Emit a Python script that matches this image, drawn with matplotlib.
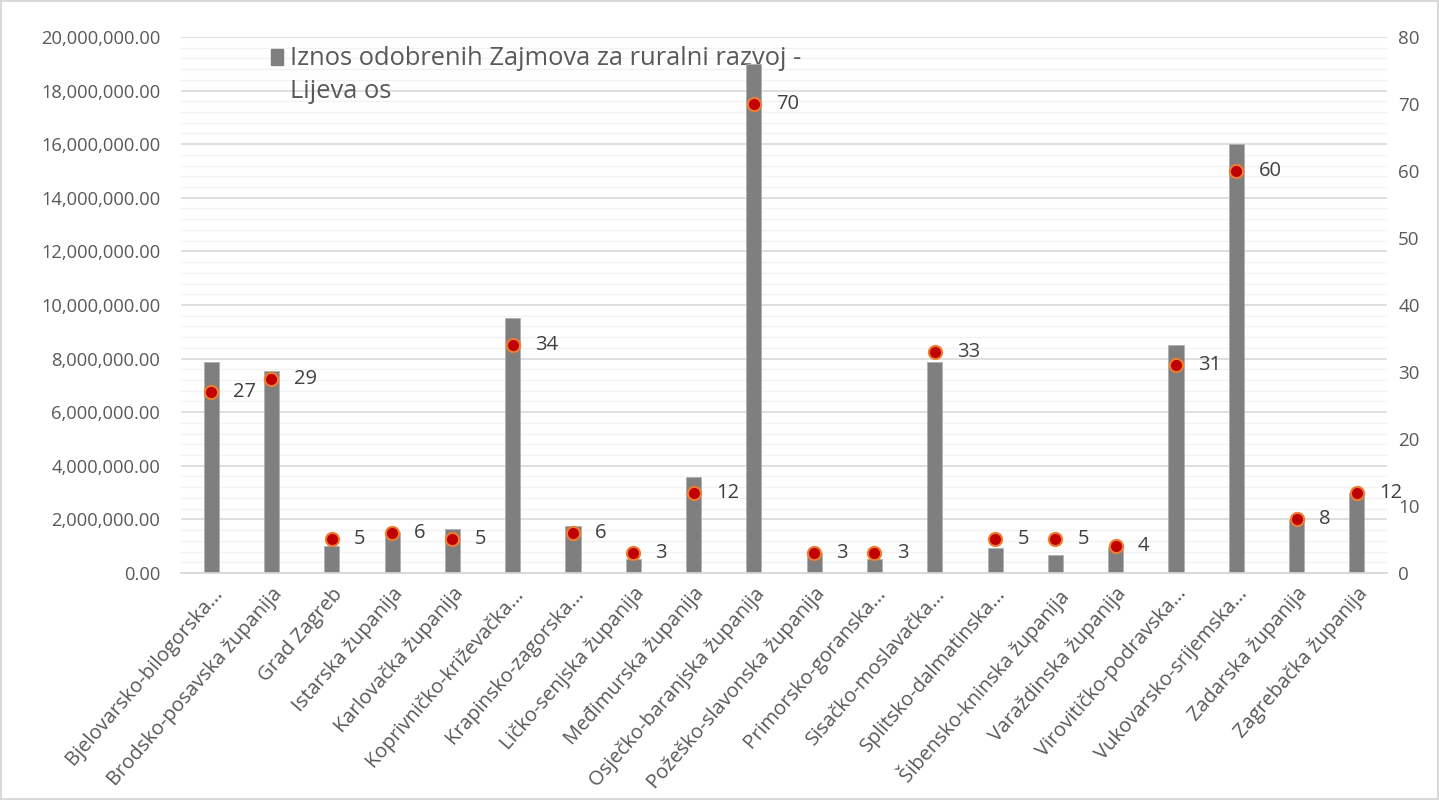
import numpy as np
import matplotlib.pyplot as plt
from matplotlib.ticker import FuncFormatter, MultipleLocator
from matplotlib.patches import Rectangle

plt.rcParams['font.family'] = ['Open Sans', 'DejaVu Sans']

zupanije = [
    "Bjelovarsko-bilogorska...", "Brodsko-posavska županija", "Grad Zagreb",
    "Istarska županija", "Karlovačka županija", "Koprivničko-križevačka...",
    "Krapinsko-zagorska...", "Ličko-senjska županija", "Međimurska županija",
    "Osječko-baranjska županija", "Požeško-slavonska županija", "Primorsko-goranska...",
    "Sisačko-moslavačka...", "Splitsko-dalmatinska...", "Šibensko-kninska županija",
    "Varaždinska županija", "Virovitičko-podravska...", "Vukovarsko-srijemska...",
    "Zadarska županija", "Zagrebačka županija",
]
# iznos odobrenih zajmova (lijeva os)
iznos = [7870000, 7550000, 1020000, 1530000, 1650000, 9510000, 1750000, 520000,
         3580000, 19000000, 750000, 520000, 7860000, 920000, 660000, 980000,
         8500000, 16000000, 1980000, 2980000]
# broj zajmova (desna os)
broj = [27, 29, 5, 6, 5, 34, 6, 3, 12, 70, 3, 3, 33, 5, 5, 4, 31, 60, 8, 12]

siva_tekst = "#595959"

fig = plt.figure(figsize=(14.39, 8), dpi=100)
fig.patch.set_edgecolor("#d9d9d9")
fig.patch.set_linewidth(1.5)
ax = fig.add_axes([0.1258, 0.2838, 0.8381, 0.6700])
ax2 = ax.twinx()

x = np.arange(len(zupanije))
ax.bar(x, iznos, width=0.25, color="#7f7f7f", edgecolor="#b0b0b0", linewidth=0.6, zorder=3)
ax.set_xlim(-0.5, len(zupanije) - 0.5)
ax.set_ylim(0, 20000000)
ax.yaxis.set_major_locator(MultipleLocator(2000000))
ax.yaxis.set_minor_locator(MultipleLocator(400000))
ax.yaxis.set_major_formatter(FuncFormatter(lambda v, p: f"{v:,.2f}"))
ax.grid(axis="y", which="major", color="#d9d9d9", linewidth=1.2, zorder=0)
ax.grid(axis="y", which="minor", color="#f2f2f2", linewidth=1.0, zorder=0)
ax.set_axisbelow(True)

ax.set_xticks(x)
ax.set_xticklabels(zupanije, rotation=49, ha="right", rotation_mode="anchor",
                   fontsize=14.5, color=siva_tekst)
ax.tick_params(axis="x", length=0, pad=8)
ax.tick_params(axis="y", which="both", length=0, labelsize=13.2, labelcolor=siva_tekst, pad=15)

ax2.plot(x, broj, linestyle="none", marker="o", markersize=9.5,
         markerfacecolor="#c00000", markeredgecolor="#ed7d31", markeredgewidth=1.5, zorder=4)
for xi, b in zip(x, broj):
    ax2.annotate(str(b), (xi, b), xytext=(16, 0), textcoords="offset points",
                 va="center", ha="left", fontsize=14.5, color="#404040")
ax2.set_ylim(0, 80)
ax2.yaxis.set_major_locator(MultipleLocator(10))
ax2.tick_params(axis="y", length=0, labelsize=13.5, labelcolor=siva_tekst, pad=8)

for a in (ax, ax2):
    for s in ("top", "left", "right"):
        a.spines[s].set_visible(False)
    a.spines["bottom"].set_color("#d9d9d9")
    a.spines["bottom"].set_linewidth(1.2)

# legenda (iza stupaca, kao u Excelu)
ax.add_patch(Rectangle((271 / 1439, 1 - 65 / 800), 12 / 1439, 16 / 800,
                       transform=fig.transFigure, color="#7f7f7f", clip_on=False, zorder=2))
ax.text(290 / 1439, 1 - 65 / 800, "Iznos odobrenih Zajmova za ruralni razvoj -",
        transform=fig.transFigure, va="baseline", ha="left", fontsize=18.4,
        color=siva_tekst, zorder=2)
ax.text(290 / 1439, 1 - 98 / 800, "Lijeva os",
        transform=fig.transFigure, va="baseline", ha="left", fontsize=18.4,
        color=siva_tekst, zorder=2)

fig.savefig("out.png", dpi=100)
